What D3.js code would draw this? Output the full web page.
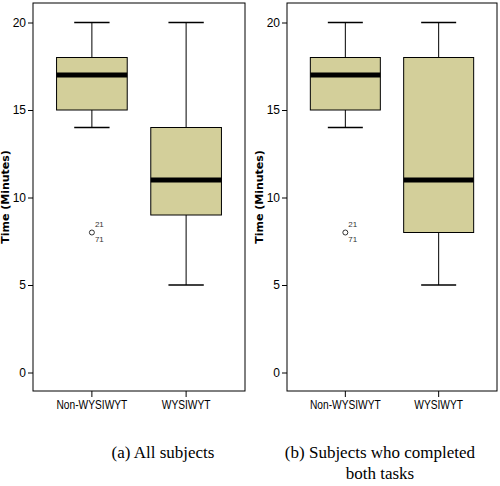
<!DOCTYPE html>
<html><head><meta charset="utf-8">
<script src="https://cdn.jsdelivr.net/npm/d3@7"></script>
<style>body{margin:0;background:#fff}</style>
</head><body>
<script>
// box stats: [min, q1, median, q3, max]
var categories = ['Non-WYSIWYT', 'WYSIWYT'];
var statsAll = [[14, 15, 17, 18, 20], [5, 9, 11, 14, 20]];
var statsBoth = [[14, 15, 17, 18, 20], [5, 8, 11, 18, 20]];
var outliers = [{cat: 'Non-WYSIWYT', value: 8, labels: ['21', '71']}];
var yTicks = [0, 5, 10, 15, 20];
var captions = [['(a) All subjects'], ['(b) Subjects who completed', 'both tasks']];

var svg = d3.select('body').append('svg').attr('width', 500).attr('height', 486);

var y = d3.scaleLinear().domain([0, 20]).range([372.5, 22.5]);

function drawPanel(left, right, stats, caption, capX) {
  var g = svg.append('g');
  var top = 3, bottom = 391;
  var x = d3.scaleBand().domain(categories).range([left, right]).padding(0.25);

  g.append('rect').attr('x', left).attr('y', top).attr('width', right - left)
    .attr('height', bottom - top).attr('fill', 'none').attr('stroke', '#000');

  var ya = g.append('g').attr('transform', 'translate(' + left + ',0)')
    .call(d3.axisLeft(y).tickValues(yTicks).tickSize(5).tickPadding(2));
  ya.select('.domain').remove();
  ya.selectAll('text').attr('font-family', 'Liberation Sans Narrow, Arial Narrow, sans-serif').attr('font-size', 12);

  var xa = g.append('g').attr('transform', 'translate(0,' + bottom + ')')
    .call(d3.axisBottom(x).tickSize(6).tickPadding(3));
  xa.select('.domain').remove();
  xa.selectAll('text').attr('font-family', 'Liberation Sans Narrow, Arial Narrow, sans-serif').attr('font-size', 12)
    .attr('transform', 'scale(0.85,1)');

  g.append('text').attr('transform', 'translate(' + (left - 24) + ',' + ((top + bottom) / 2) + ') rotate(-90)')
    .attr('text-anchor', 'middle').attr('font-family', 'DejaVu Sans, sans-serif')
    .attr('font-weight', 'bold').attr('font-size', 11).text('Time (Minutes)');

  categories.forEach(function(c, i) {
    var s = stats[i], x0 = x(c), w = x.bandwidth(), cx = x0 + w / 2;
    g.append('line').attr('x1', cx).attr('x2', cx).attr('y1', y(s[0])).attr('y2', y(s[4])).attr('stroke', '#000');
    [s[0], s[4]].forEach(function(v) {
      g.append('line').attr('x1', cx - w / 4).attr('x2', cx + w / 4).attr('y1', y(v)).attr('y2', y(v)).attr('stroke', '#000').attr('stroke-width', 1.5);
    });
    g.append('rect').attr('x', x0).attr('y', y(s[3])).attr('width', w).attr('height', y(s[1]) - y(s[3]))
      .attr('fill', '#d3cf9a').attr('stroke', '#000');
    g.append('line').attr('x1', x0).attr('x2', x0 + w).attr('y1', y(s[2])).attr('y2', y(s[2])).attr('stroke', '#000').attr('stroke-width', 5);
  });

  outliers.forEach(function(o) {
    var cx = x(o.cat) + x.bandwidth() / 2;
    g.append('circle').attr('cx', cx).attr('cy', y(o.value)).attr('r', 2.5).attr('fill', 'none').attr('stroke', '#000').attr('stroke-width', 0.8);
    g.append('text').attr('x', cx + 3).attr('y', y(o.value) - 6).attr('font-size', 8).attr('font-family', 'Liberation Sans Narrow, sans-serif').attr('fill', '#333').text(o.labels[0]);
    g.append('text').attr('x', cx + 3).attr('y', y(o.value) + 9).attr('font-size', 8).attr('font-family', 'Liberation Sans Narrow, sans-serif').attr('fill', '#333').text(o.labels[1]);
  });

  caption.forEach(function(line, i) {
    svg.append('text').attr('x', capX).attr('y', 458 + i * 21).attr('text-anchor', 'middle')
      .attr('font-family', 'Liberation Serif, serif').attr('font-size', 17).text(line);
  });
}

drawPanel(33, 245, statsAll, captions[0], 163);
drawPanel(287, 497, statsBoth, captions[1], 380);
</script>
</body></html>
